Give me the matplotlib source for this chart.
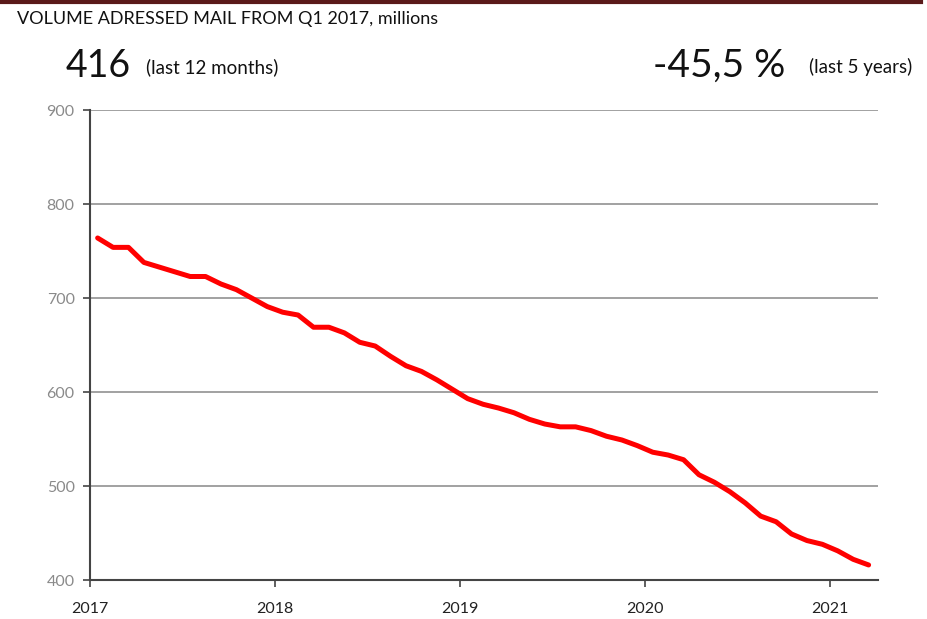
#!/usr/bin/env python3
import numpy as np
import matplotlib.pyplot as plt

# ── Data: addressed mail volume, rolling 12 months, millions ──────────────────
volume = [764, 754, 754, 738, 733, 728, 723, 723, 715, 709,
          700, 691, 685, 682, 669, 669, 663, 653, 649, 638,
          628, 622, 613, 603, 593, 587, 583, 578, 571, 566,
          563, 563, 559, 553, 549, 543, 536, 533, 528, 512,
          504, 494, 482, 468, 462, 449, 442, 438, 431, 422,
          416]
years = ["2017", "2018", "2019", "2020", "2021"]
y_ticks = [400, 500, 600, 700, 800, 900]

months = np.arange(len(volume)) + 0.5

plt.rcParams["font.family"] = ["Lato", "DejaVu Sans"]

fig = plt.figure(figsize=(9.27, 6.19), dpi=100)
ax = fig.add_axes([0.097, 0.063, 0.850, 0.759])

ax.plot(months, volume, color="#ff0000", linewidth=3.6, solid_capstyle="round",
        solid_joinstyle="round", zorder=3)

ax.set_xlim(0, 51.1)
ax.set_ylim(400, 900)
ax.set_xticks(np.arange(len(years)) * 12)
ax.set_xticklabels(years, fontsize=11.5, color="#222222")
ax.set_yticks(y_ticks)
ax.set_yticklabels([str(v) for v in y_ticks], fontsize=11.5, color="#8a8a8a")
ax.tick_params(axis="both", direction="out", length=5, width=1.2, color="#444444")
ax.tick_params(axis="x", pad=11)
ax.tick_params(axis="y", pad=6)

ax.grid(axis="y", color="#9a9a9a", linewidth=1.3)
ax.set_axisbelow(True)
for side in ["top", "right"]:
    ax.spines[side].set_visible(False)
ax.spines["left"].set_color("#444444")
ax.spines["left"].set_linewidth(1.5)
ax.spines["bottom"].set_color("#444444")
ax.spines["bottom"].set_linewidth(1.5)

# header band and text
fig.add_artist(plt.Line2D([0, 0.993], [0.997, 0.997], color="#5a1a1a",
                          linewidth=3, transform=fig.transFigure))
fig.text(0.018, 0.982, "VOLUME ADRESSED MAIL FROM Q1 2017, millions",
         fontsize=13, va="top", ha="left", color="#111111")
fig.text(0.071, 0.876, "416", fontsize=27, va="baseline", ha="left", color="#111111")
fig.text(0.157, 0.882, "(last 12 months)", fontsize=13.5, va="baseline", ha="left",
         color="#111111")
fig.text(0.704, 0.876, "-45,5 %", fontsize=28, va="baseline", ha="left",
         color="#111111")
fig.text(0.984, 0.882, "(last 5 years)", fontsize=13.5, va="baseline", ha="right",
         color="#111111")

fig.savefig("out.png", dpi=100)
plt.close(fig)
